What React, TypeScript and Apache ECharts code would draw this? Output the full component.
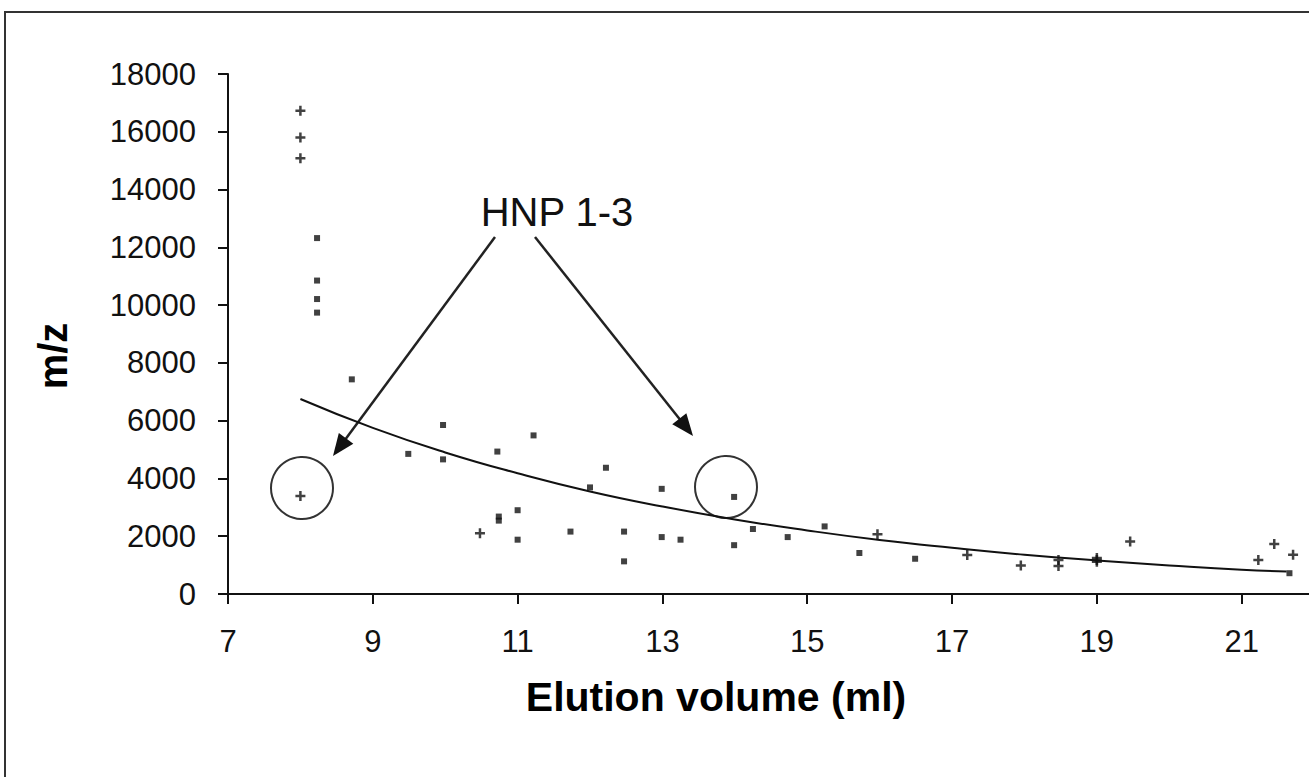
import React, { useEffect, useRef } from "react";
import * as echarts from "echarts";

// Data
const squarePoints: [number, number][] = [
  [8.23, 12320], [8.23, 10850], [8.23, 10210], [8.23, 9740], [8.71, 7430],
  [9.97, 5850], [9.49, 4850], [9.97, 4660], [10.72, 4930], [10.74, 2680],
  [10.74, 2540], [11.0, 2900], [11.0, 1880], [11.22, 5490], [12.22, 4370],
  [12.0, 3690], [12.99, 3640], [11.73, 2160], [12.47, 2160], [12.47, 1130],
  [12.99, 1970], [13.25, 1880], [13.99, 3360], [13.99, 1690], [14.25, 2250],
  [14.73, 1970], [15.24, 2340], [15.72, 1420], [16.49, 1220], [21.66, 720],
];

const crossPoints: [number, number][] = [
  [8.0, 16730], [8.0, 15800], [8.0, 15080], [8.0, 3390], [10.48, 2100],
  [15.97, 2070], [17.21, 1350], [17.95, 990], [18.47, 1180], [18.47, 970],
  [19.0, 1250], [19.0, 1180], [19.0, 1120], [19.46, 1820], [21.23, 1180],
  [21.45, 1730], [21.71, 1360],
];

const trendX = [8, 9, 10, 11, 12, 13, 14, 15, 16, 17, 18, 19, 20, 21, 21.62];
const trendY = [6750, 5750, 4900, 4180, 3550, 3030, 2580, 2200, 1870, 1600, 1360, 1160, 990, 840, 780];

const yTicks = [0, 2000, 4000, 6000, 8000, 10000, 12000, 14000, 16000, 18000];
const xTickLabels = ["7", "9", "11", "13", "15", "17", "19", "21"];

const annotationText = "HNP 1-3";
const xTitle = "Elution volume (ml)";
const yTitle = "m/z";

const FONT = "'Liberation Sans', Arial, sans-serif";
const INK = "#111";

function arrow(x1: number, y1: number, x2: number, y2: number) {
  const dx = x2 - x1;
  const dy = y2 - y1;
  const len = Math.sqrt(dx * dx + dy * dy);
  const ux = dx / len;
  const uy = dy / len;
  const hl = 22;
  const hw = 9;
  const bx = x2 - hl * ux;
  const by = y2 - hl * uy;
  const nx = -uy;
  const ny = ux;
  return [
    {
      type: "line",
      shape: { x1, y1, x2: bx + ux * 2, y2: by + uy * 2 },
      style: { stroke: "#222", lineWidth: 2.5 },
    },
    {
      type: "polygon",
      shape: {
        points: [
          [x2, y2],
          [bx + hw * nx, by + hw * ny],
          [bx - hw * nx, by - hw * ny],
        ],
      },
      style: { fill: "#111" },
    },
  ];
}

export default function App() {
  const ref = useRef<HTMLDivElement>(null);

  useEffect(() => {
    document.body.style.margin = "0";
    document.body.style.overflow = "hidden";
    if (!ref.current) return;
    const chart = echarts.init(ref.current, undefined, { renderer: "svg" });
    const crossSymbol = "path://M3,0H5V3H8V5H5V8H3V5H0V3H3Z";

    chart.setOption({
      animation: false,
      backgroundColor: "#ffffff",
      grid: { left: 228, top: 74, right: 0, bottom: 183, containLabel: false },
      xAxis: {
        type: "value",
        min: 7,
        max: 21.93,
        interval: 2,
        axisLine: { show: true, lineStyle: { color: INK, width: 2 } },
        axisTick: { show: true, length: 10, lineStyle: { color: INK, width: 2 } },
        splitLine: { show: false },
        axisLabel: {
          showMaxLabel: false,
          margin: 32,
          fontSize: 31,
          fontFamily: FONT,
          color: INK,
          formatter: (v: number) => {
            const s = String(v);
            return xTickLabels.includes(s) ? s : "";
          },
        },
      },
      yAxis: {
        type: "value",
        min: 0,
        max: 18000,
        interval: 2000,
        axisLine: { show: true, lineStyle: { color: INK, width: 2 } },
        axisTick: { show: true, length: 10, lineStyle: { color: INK, width: 2 } },
        splitLine: { show: false },
        axisLabel: {
          margin: 32,
          fontSize: 31,
          fontFamily: FONT,
          color: INK,
          formatter: (v: number) => (yTicks.includes(v) ? String(v) : ""),
        },
      },
      series: [
        {
          type: "line",
          data: trendX.map((x, i) => [x, trendY[i]]),
          smooth: true,
          showSymbol: false,
          lineStyle: { color: "#111", width: 2 },
          z: 2,
        },
        {
          type: "scatter",
          data: squarePoints,
          symbol: "rect",
          symbolSize: 6,
          itemStyle: { color: "#111" },
          z: 3,
        },
        {
          type: "scatter",
          data: crossPoints,
          symbol: crossSymbol,
          symbolSize: 10,
          itemStyle: { color: "#111" },
          z: 3,
        },
      ],
      graphic: [
        {
          type: "rect",
          shape: { x: 5, y: 12, width: 1400, height: 900 },
          style: { fill: "none", stroke: "#333", lineWidth: 2 },
          silent: true,
        },
        {
          type: "text",
          x: 557,
          y: 212,
          style: {
            text: annotationText,
            font: `40px ${FONT}`,
            fill: "#111",
            align: "center",
            verticalAlign: "middle",
          },
        },
        ...arrow(495, 237, 333, 456),
        ...arrow(535, 237, 693, 436),
        {
          type: "circle",
          shape: { cx: 302, cy: 488, r: 31 },
          style: { fill: "none", stroke: "#333", lineWidth: 2 },
        },
        {
          type: "circle",
          shape: { cx: 726, cy: 487, r: 31 },
          style: { fill: "none", stroke: "#333", lineWidth: 2 },
        },
        {
          type: "text",
          x: 716,
          y: 697,
          style: {
            text: xTitle,
            font: `bold 41px ${FONT}`,
            fill: "#000",
            align: "center",
            verticalAlign: "middle",
          },
        },
        {
          type: "text",
          x: 53,
          y: 356,
          rotation: Math.PI / 2,
          style: {
            text: yTitle,
            font: `bold 40px ${FONT}`,
            fill: "#000",
            align: "center",
            verticalAlign: "middle",
          },
        },
      ],
    });

    return () => {
      chart.dispose();
    };
  }, []);

  return <div ref={ref} style={{ width: 1309, height: 777 }} />;
}
